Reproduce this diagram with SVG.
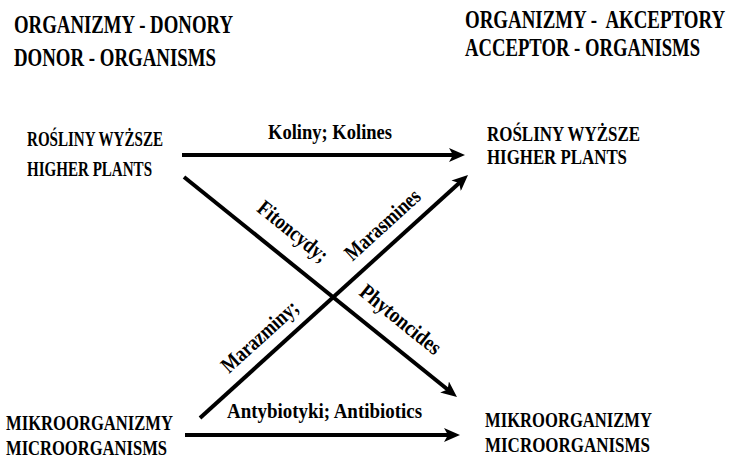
<svg xmlns="http://www.w3.org/2000/svg" width="733" height="460" viewBox="0 0 733 460">
<style>
text{font-family:"Liberation Serif","Times New Roman",serif;font-weight:bold;fill:#000;white-space:pre}
.t{font-size:26px}
.n{font-size:22px}
.r{font-size:21px}
.e{font-size:22px}
.c{stroke:#000;stroke-width:4;fill:none}
</style>
<defs>
<marker id="ah" markerUnits="userSpaceOnUse" viewBox="0 0 16 14" refX="6" refY="7" markerWidth="16" markerHeight="14" orient="auto">
<path d="M0,0 L16,7 L0,14 L4,7 z" fill="#000"/>
</marker>
</defs>
<g id="title-donor">
<text class="t" x="14" y="33" textLength="219" lengthAdjust="spacingAndGlyphs">ORGANIZMY - DONORY</text>
<text class="t" x="14" y="66" textLength="202" lengthAdjust="spacingAndGlyphs">DONOR - ORGANISMS</text>
</g>
<g id="title-acceptor">
<text class="t" transform="translate(465,28) scale(0.7183,1)" x="0" y="0" textLength="362" lengthAdjust="spacingAndGlyphs">ORGANIZMY -  AKCEPTORY</text>
<text class="t" transform="translate(465,56) scale(0.7167,1)" x="0" y="0" textLength="328" lengthAdjust="spacingAndGlyphs">ACCEPTOR - ORGANISMS</text>
</g>
<g id="donor-plants">
<text class="n" x="27" y="146" textLength="136" lengthAdjust="spacingAndGlyphs">ROŚLINY WYŻSZE</text>
<text class="n" x="27" y="176" textLength="125" lengthAdjust="spacingAndGlyphs">HIGHER PLANTS</text>
</g>
<g id="acceptor-plants">
<text class="r" x="487" y="141" textLength="153" lengthAdjust="spacingAndGlyphs">ROŚLINY WYŻSZE</text>
<text class="r" x="487" y="164" textLength="140" lengthAdjust="spacingAndGlyphs">HIGHER PLANTS</text>
</g>
<g id="donor-micro">
<text class="n" x="6" y="430" textLength="167" lengthAdjust="spacingAndGlyphs">MIKROORGANIZMY</text>
<text class="n" x="6" y="455" textLength="161" lengthAdjust="spacingAndGlyphs">MICROORGANISMS</text>
</g>
<g id="acceptor-micro">
<text class="n" x="485" y="427" textLength="167" lengthAdjust="spacingAndGlyphs">MIKROORGANIZMY</text>
<text class="n" x="485" y="452" textLength="165" lengthAdjust="spacingAndGlyphs">MICROORGANISMS</text>
</g>
<g id="connectors">
<line class="c" x1="182" y1="155" x2="455" y2="155" marker-end="url(#ah)"/>
<line class="c" x1="185" y1="435" x2="450" y2="435" marker-end="url(#ah)"/>
<line class="c" x1="184" y1="177" x2="449.2" y2="390.7" marker-end="url(#ah)"/>
<line class="c" x1="200" y1="418" x2="460.6" y2="181.7" marker-end="url(#ah)"/>
<text class="e" x="330" y="139" text-anchor="middle" textLength="124" lengthAdjust="spacingAndGlyphs">Koliny; Kolines</text>
<text class="e" x="324.5" y="418" text-anchor="middle" textLength="195" lengthAdjust="spacingAndGlyphs">Antybiotyki; Antibiotics</text>
<g transform="translate(184,177) rotate(38.9)">
<text class="e" x="119" y="-19" text-anchor="middle" textLength="84" lengthAdjust="spacingAndGlyphs">Fitoncydy;</text>
<text class="e" x="258" y="-18" text-anchor="middle" textLength="98" lengthAdjust="spacingAndGlyphs">Phytoncides</text>
</g>
<g transform="translate(200,418) rotate(-42.3)">
<text class="e" x="99" y="-13" text-anchor="middle" textLength="96" lengthAdjust="spacingAndGlyphs">Marazminy;</text>
<text class="e" x="265" y="-13" text-anchor="middle" textLength="94" lengthAdjust="spacingAndGlyphs">Marasmines</text>
</g>
</g>
</svg>
